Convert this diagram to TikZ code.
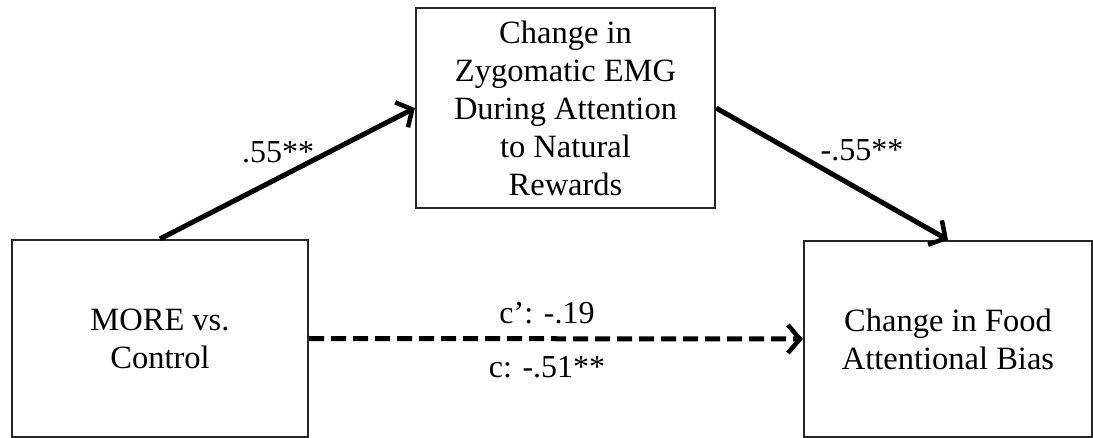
\documentclass[tikz,border=0pt]{standalone}
\usepackage{fontspec}
\setmainfont{Liberation Serif}
\usetikzlibrary{arrows.meta}
\begin{document}
\begin{tikzpicture}[x=1pt,y=-1pt,
  box/.style={draw=black!85,line width=2.2pt,align=center,inner sep=0pt,
    font=\fontsize{32.5}{38}\selectfont},
  conn/.style={line width=5pt,-{Straight Barb[length=12pt,width=28pt,line width=4.5pt]}},
  lbl/.style={font=\fontsize{32}{36}\selectfont,inner sep=0pt}]
\useasboundingbox (0,0) rectangle (1093,438);
\node[box,minimum width=299pt,minimum height=200pt] (med) at (565.5,108)
  {Change in\\Zygomatic EMG\\During Attention\\to Natural\\Rewards};
\node[box,minimum width=296pt,minimum height=197pt] (iv) at (160,338.5)
  {MORE vs.\\Control};
\node[box,minimum width=288pt,minimum height=196pt] (dv) at (948,339)
  {Change in Food\\Attentional Bias};
\draw[conn] (iv.north) -- (med.west);
\draw[conn] (med.east) -- (dv.north);
\draw[conn,dash pattern=on 15pt off 7pt] (iv.east) -- (dv.west);
\node[lbl] (a) at (278,152) {.55**};
\node[lbl] (b) at (862,150) {-.55**};
\node[lbl] (c1) at (547,313) {c’: -.19};
\node[lbl] (c2) at (547,367) {c: -.51**};
\end{tikzpicture}
\end{document}
